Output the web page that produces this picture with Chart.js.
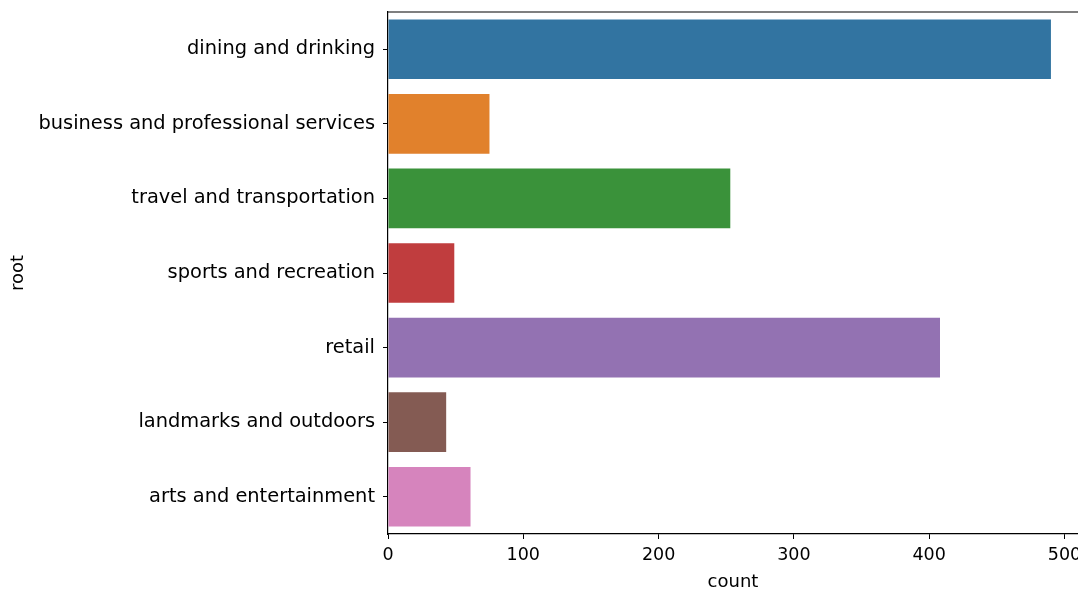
<!DOCTYPE html>
<html>
<head>
  <style>
    body { margin: 0; background: #ffffff; }
    #wrap { width: 1078px; height: 589px; }
  </style>
  <script src="https://cdn.jsdelivr.net/npm/chart.js"></script>
</head>
<body>
  <div id="wrap"><canvas id="myChart" width="1078" height="589"></canvas></div>
  <script>
    const categories = [
      'dining and drinking',
      'business and professional services',
      'travel and transportation',
      'sports and recreation',
      'retail',
      'landmarks and outdoors',
      'arts and entertainment'
    ];
    const counts = [490, 75, 253, 49, 408, 43, 61];
    const barColors = ['#3274a1', '#e1812c', '#3a923a', '#c03d3e', '#9372b2', '#845b53', '#d684bd'];
    const xTicks = [0, 100, 200, 300, 400, 500];

    const fontFam = '"DejaVu Sans", sans-serif';

    // top spine (matplotlib style frame)
    const frame = {
      id: 'frame',
      afterDraw(chart) {
        const { ctx, chartArea } = chart;
        ctx.save();
        ctx.strokeStyle = '#000';
        ctx.lineWidth = 1.2;
        ctx.beginPath();
        ctx.moveTo(chartArea.left, chartArea.top);
        ctx.lineTo(chartArea.right + 2, chartArea.top);
        ctx.stroke();
        ctx.restore();
      }
    };

    new Chart(document.getElementById('myChart'), {
      type: 'bar',
      data: {
        labels: categories,
        datasets: [{
          data: counts,
          backgroundColor: barColors,
          borderWidth: 0,
          categoryPercentage: 1.0,
          barPercentage: 0.8
        }]
      },
      options: {
        indexAxis: 'y',
        responsive: false,
        animation: false,
        layout: { padding: { top: 12, right: 0, left: 0, bottom: 0 } },
        plugins: { legend: { display: false }, tooltip: { enabled: false } },
        scales: {
          x: {
            min: 0,
            max: 510,
            afterBuildTicks: (scale) => {
              scale.ticks = xTicks.map(v => ({ value: v }));
            },
            afterFit: (scale) => { scale.height = 55; scale.paddingRight = 0; scale.paddingLeft = 0; },
            grid: { drawOnChartArea: false, drawTicks: true, tickLength: 5, color: '#000' },
            border: { color: '#000', width: 1.2 },
            ticks: { color: '#000', font: { family: fontFam, size: 17.5 }, padding: 6, maxRotation: 0 },
            title: { display: true, text: 'count', color: '#000', font: { family: fontFam, size: 18 }, padding: { top: 4, bottom: -4 } }
          },
          y: {
            afterFit: (scale) => { scale.width = 388; scale.paddingTop = 0; scale.paddingBottom = 0; },
            grid: { drawOnChartArea: false, drawTicks: true, tickLength: 5, color: '#000', offset: false },
            border: { color: '#000', width: 1.2 },
            ticks: { color: '#000', font: { family: fontFam, size: 19.4 }, padding: 8 },
            title: { display: true, text: 'root', color: '#000', font: { family: fontFam, size: 18 }, padding: { top: 8, bottom: 0 } }
          }
        }
      },
      plugins: [frame]
    });
  </script>
</body>
</html>
